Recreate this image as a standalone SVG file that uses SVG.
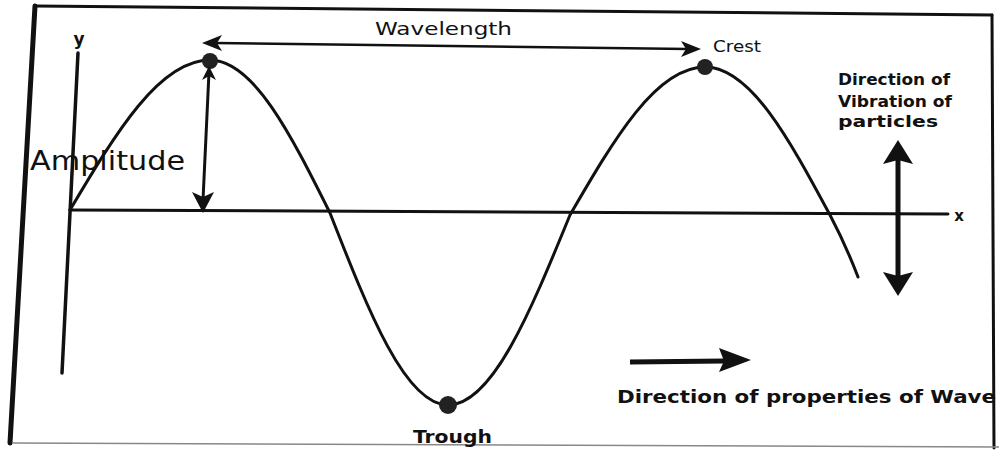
<svg xmlns="http://www.w3.org/2000/svg" width="999" height="450" viewBox="0 0 999 450">
  <style>
    .line { fill: none; stroke: #111; stroke-linecap: round; }
    .arrow { fill: none; stroke: #111; stroke-linecap: butt; }
    .head { fill: #111; stroke: none; }
    .lbl { font-family: "DejaVu Sans", Verdana, sans-serif; fill: #111; }
    .b { font-weight: bold; }
    .dot { fill: #222; }
  </style>
  <rect width="999" height="450" fill="#ffffff"/>

  <g id="frame">
    <path d="M35,6 L10,443" class="line" stroke-width="5"/>
    <path d="M35,6 L992,15" class="line" stroke-width="3"/>
    <path d="M992,15 L994,448" class="line" stroke-width="3"/>
    <path d="M12,443 L999,447" style="fill:none;stroke:#888;stroke-width:1.5"/>
  </g>

  <g id="axes">
    <path d="M78,53 L62,373" class="line" stroke-width="3.5"/>
    <path d="M70,210 L948,214" class="line" stroke-width="3"/>
    <text class="lbl b" x="79" y="45" font-size="17" text-anchor="middle">y</text>
    <text class="lbl b" x="959" y="221" font-size="15" text-anchor="middle">x</text>
  </g>

  <g id="wave">
    <path class="line" stroke-width="3" d="M70,210 C115.6,133.2 159.3,60 210,60 C253.4,60 290.9,134.7 330,213 C368.5,311.3 405.3,405 448,405 C492.2,405 530.2,312.3 570,215 C614,139.2 656.1,67 705,67 C750.3,67 789.3,139.2 830,215 C840,234 850,256 858,277"/>
  </g>

  <g id="crest1"><circle class="dot" cx="210" cy="61" r="8"/></g>
  <g id="crest2"><circle class="dot" cx="705" cy="67" r="8"/>
    <text class="lbl" x="713" y="52" font-size="15" textLength="48" lengthAdjust="spacingAndGlyphs">Crest</text>
  </g>
  <g id="trough"><circle class="dot" cx="448" cy="405" r="9"/>
    <text class="lbl b" x="413" y="443" font-size="17" textLength="79" lengthAdjust="spacingAndGlyphs">Trough</text>
  </g>

  <g id="connectors">
    <g id="wavelength-arrow">
      <path class="arrow" stroke-width="2.5" d="M215,43 L688,49"/>
      <path class="head" d="M202,43 L222,35 L217,43 L222,51 Z"/>
      <path class="head" d="M701,49 L681,41 L686,49 L681,57 Z"/>
    </g>
    <g id="amplitude-arrow">
      <path class="arrow" stroke-width="3" d="M209,72 L203,200"/>
      <path class="head" d="M209,66 L216,80 L209,76 L202,80 Z"/>
      <path class="head" d="M203,213 L192,192 L203,197 L214,192 Z"/>
    </g>
    <g id="vibration-arrow">
      <path class="arrow" stroke-width="5" d="M898,158 L898,277"/>
      <path class="head" d="M898,140 L913,164 L898,160 L883,164 Z"/>
      <path class="head" d="M898,296 L883,272 L898,276 L913,272 Z"/>
    </g>
    <g id="propagation-arrow">
      <path class="arrow" stroke-width="5" d="M630,362 L725,361"/>
      <path class="head" d="M751,360 L719,348 L724,361 L719,372 Z"/>
    </g>
  </g>

  <g id="labels">
    <text class="lbl" x="375" y="35" font-size="17" textLength="137" lengthAdjust="spacingAndGlyphs">Wavelength</text>
    <text class="lbl" x="30" y="170" font-size="26" textLength="155" lengthAdjust="spacingAndGlyphs">Amplitude</text>
    <text class="lbl b" x="838" y="85" font-size="16" textLength="112" lengthAdjust="spacingAndGlyphs">Direction of</text>
    <text class="lbl b" x="838" y="107" font-size="16" textLength="114" lengthAdjust="spacingAndGlyphs">Vibration of</text>
    <text class="lbl b" x="838" y="127" font-size="16" textLength="100" lengthAdjust="spacingAndGlyphs">particles</text>
    <text class="lbl b" x="617" y="403" font-size="17" textLength="379" lengthAdjust="spacingAndGlyphs">Direction of properties of Wave</text>
  </g>
</svg>
